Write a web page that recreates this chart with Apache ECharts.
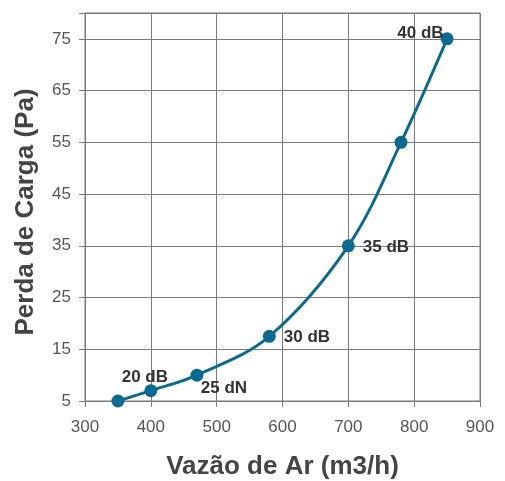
<!DOCTYPE html>
<html><head><meta charset="utf-8">
<script src="https://cdn.jsdelivr.net/npm/echarts@6/dist/echarts.min.js"></script>
<style>html,body{margin:0;padding:0;background:#fff}#c{width:505px;height:481px}</style>
</head><body><div id="c"></div>
<script>
const flowValues = [350, 400, 470, 580, 700, 780, 850];
const pressureValues = [5, 7, 10, 17.5, 35, 55, 75];
const pointLabels = ['', '20 dB', '25 dN', '30 dB', '35 dB', '', '40 dB'];
const xTicks = [300, 400, 500, 600, 700, 800, 900];
const yTicks = [5, 15, 25, 35, 45, 55, 65, 75];

const labelPos = ['right', 'top', 'bottom', 'right', 'right', 'right', 'left'];
const labelOffset = [[0,0], [-6,7], [27,-7], [3,1], [3,2], [0,0], [8,-6]];

const data = flowValues.map((x, i) => ({
  value: [x, pressureValues[i]],
  label: {
    show: pointLabels[i] !== '',
    formatter: pointLabels[i],
    position: labelPos[i],
    offset: labelOffset[i]
  }
}));

const FONT = 'Liberation Sans, Arial, sans-serif';
const chart = echarts.init(document.getElementById('c'));
chart.setOption({
  animation: false,
  grid: { left: 85, right: 25, top: 13, bottom: 80, show: true, borderColor: '#7a7a7a', borderWidth: 1,
          containLabel: false, outerBoundsMode: 'none' },
  xAxis: {
    type: 'value', min: 300, max: 900, interval: 100,
    name: 'Vazão de Ar (m3/h)', nameLocation: 'middle', nameGap: 53,
    nameTextStyle: { fontSize: 26, fontWeight: 'bold', color: '#444', fontFamily: FONT },
    axisLine: { show: true, lineStyle: { color: '#7a7a7a' } },
    axisTick: { show: true, length: 6, lineStyle: { color: '#7a7a7a' } },
    axisLabel: { color: '#555', fontSize: 17, margin: 18, fontFamily: FONT,
      formatter: v => xTicks.includes(v) ? String(v) : '' },
    splitLine: { show: true, lineStyle: { color: '#7a7a7a', width: 1 } }
  },
  yAxis: {
    type: 'value', min: 5, max: 80, interval: 10,
    name: 'Perda de Carga (Pa)', nameLocation: 'middle', nameGap: 46, nameRotate: 90,
    nameTextStyle: { fontSize: 26, fontWeight: 'bold', color: '#444', fontFamily: FONT, padding: [0, 10, 0, 0] },
    axisLine: { show: true, lineStyle: { color: '#7a7a7a' } },
    axisTick: { show: true, length: 6, lineStyle: { color: '#7a7a7a' } },
    axisLabel: { color: '#555', fontSize: 17, margin: 14, fontFamily: FONT,
      formatter: v => yTicks.includes(v) ? String(v) : '' },
    splitLine: { show: true, lineStyle: { color: '#7a7a7a', width: 1 } }
  },
  series: [{
    type: 'line',
    data: data,
    smooth: 0.35,
    symbol: 'circle',
    symbolSize: 13,
    lineStyle: { color: '#0b6a8f', width: 3 },
    itemStyle: { color: '#0b6a8f' },
    label: { color: '#333', fontSize: 17, fontWeight: 'bold', fontFamily: FONT }
  }]
});
</script>
</body></html>
